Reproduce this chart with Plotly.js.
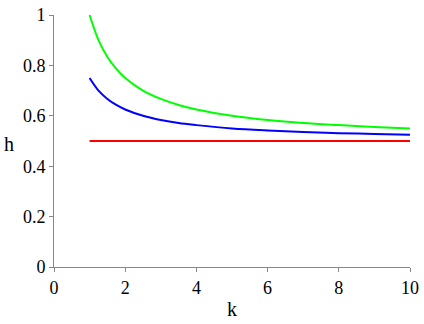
<!DOCTYPE html>
<html>
<head>
<meta charset="utf-8">
<script src="https://cdn.plot.ly/plotly-3.0.1.min.js"></script>
<style>
  html, body { margin: 0; padding: 0; background: white; }
  #chart { width: 424px; height: 324px; }
  /* keep the tick labels in the serif face of the reference */
  #chart .xtick text, #chart .ytick text {
    font-family: 'Liberation Serif', serif !important;
    font-size: 18px !important;
    fill: black !important;
  }
</style>
</head>
<body>
<div id="chart"></div>
<script>
// values
const kValues = [1, 1.25, 1.5, 1.75, 2, 2.5, 3, 3.5, 4, 5, 6, 7, 8, 9, 10];
const greenH = [1.0, 0.9, 0.833, 0.786, 0.75, 0.7, 0.667, 0.643, 0.625, 0.6, 0.583, 0.571, 0.563, 0.556, 0.55];
const blueH = [0.75, 0.7, 0.667, 0.643, 0.625, 0.6, 0.583, 0.571, 0.563, 0.55, 0.542, 0.536, 0.531, 0.528, 0.525];
const redK = [1, 10];
const redH = [0.5, 0.5];
const xRange = [0, 10];
const yRange = [0, 1];
const xStep = 2;
const yStep = 0.2;

const font = (size) => ({ family: 'Liberation Serif', size: size, color: 'black' });

const traces = [
    { x: redK, y: redH, mode: 'lines', line: { color: 'rgb(255,0,0)', width: 2 } },
    { x: kValues, y: blueH, mode: 'lines', line: { color: 'rgb(0,0,255)', width: 2, shape: 'spline' } },
    { x: kValues, y: greenH, mode: 'lines', line: { color: 'rgb(0,255,0)', width: 2, shape: 'spline' } }
];

const axisStyle = (range, step) => ({
    range: range,
    tick0: 0,
    dtick: step,
    ticks: 'outside',
    ticklen: 4,
    tickcolor: '#888',
    showline: true,
    linecolor: '#888',
    showgrid: false,
    zeroline: false,
    tickfont: font(18)
});

const layout = {
    width: 424,
    height: 324,
    margin: { l: 54, r: 14, t: 15, b: 57 },
    paper_bgcolor: 'white',
    plot_bgcolor: 'white',
    showlegend: false,
    font: font(18),
    xaxis: axisStyle(xRange, xStep),
    yaxis: axisStyle(yRange, yStep),
    annotations: [
        { text: 'k', xref: 'paper', yref: 'paper', x: 0.5, y: -0.165, xanchor: 'center', yanchor: 'middle', showarrow: false, font: font(20) },
        { text: 'h', xref: 'paper', yref: 'paper', x: -0.126, y: 0.488, xanchor: 'center', yanchor: 'middle', showarrow: false, font: font(20) }
    ]
};

Plotly.newPlot('chart', traces, layout, { displayModeBar: false });
</script>
</body>
</html>
